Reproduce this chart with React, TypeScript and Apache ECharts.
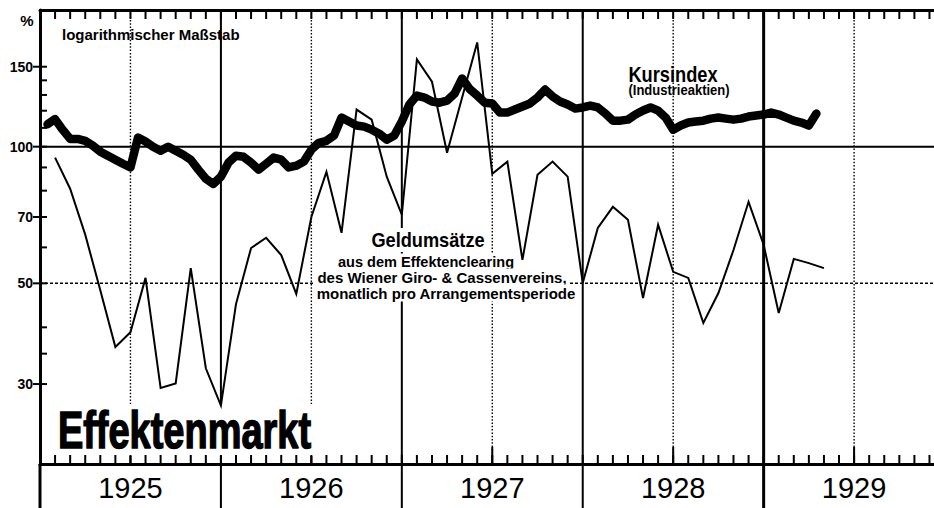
import React, { useEffect, useRef } from "react";
import * as echarts from "echarts";

// Kursindex (Industrieaktien), half-monthly readings starting mid-January 1925
const kursindex = [
  112, 115, 109, 104, 104, 103, 100.5, 97.5, 95.5, 93.6, 91.7, 90,
  104.7, 102.6, 100, 98, 100, 98, 96, 93.6, 89, 85, 82.8, 85.9,
  92.2, 95.5, 95, 92.2, 89, 91.7, 94.6, 93.6, 90, 90.8, 92.7, 98.5,
  102, 103, 105.8, 115.9, 113.6, 111.3, 110.7, 109, 106.8, 103.6, 105.8, 113.6,
  123.8, 129.6, 128.3, 125.7, 125, 126.3, 130.9, 141.3, 134, 129.6, 125, 124.5,
  118.9, 118.9, 120.7, 122.6, 124.5, 128.3, 133.6, 129, 125.7, 123.8, 121.3, 122,
  123.2, 122, 118.3, 114.1, 114.1, 114.7, 117.7, 120.1, 122, 120, 115.9, 109,
  111.3, 113, 113.6, 114.1, 115.3, 115.9, 115.3, 114.7, 115.3, 116.5, 117.1, 117.7,
  118.9, 117.7, 115.9, 114.1, 113, 111.3, 118.3,
];
const kursStartMonth = 0.5;
const kursStepMonth = 0.5;

// Geldumsätze, monthly (end of each month from January 1925)
const geldumsaetze = [
  94.6, 80.8, 64, 48.3, 36.2, 39, 51.4, 29.4, 30.1, 54, 32.5, 26.9,
  45, 59.8, 63, 57.7, 47.4, 70, 88, 64.6, 120.7, 114.7, 85.9, 70.8,
  155.7, 139, 97, 128.3, 169.7, 87.1, 92.7, 56.3, 86.7, 92.7, 85.9, 50.1,
  66.2, 73.7, 69, 46.4, 67.3, 53, 51.4, 40.9, 47.6, 59.2, 75.6, 60.8,
  43, 56.6, 55.4, 54,
];
const geldStartMonth = 1;

const yearLabels = ["1925", "1926", "1927", "1928", "1929"];
const yLabelValues = [30, 50, 70, 100, 150];
const yMinorTickValues = [35, 40, 60, 80, 90, 110, 120, 130, 140];
const yearBoundaryMonths = [0, 12, 24, 36, 48];
const midYearMonths = [6, 18, 30, 42, 54];
const refLineValues = [100, 50];

const X_MAX = 59.3;
const BAND = 44;
const lg = (v: number) => Math.log10(v);
const FONT = "'Liberation Sans', Arial, Helvetica, sans-serif";

export default function App() {
  const ref = useRef<HTMLDivElement>(null);

  useEffect(() => {
    if (!ref.current) return;
    const chart = echarts.init(ref.current, undefined, { renderer: "svg" });
    const yMin = lg(20);
    const yMax = lg(200);
    const monthTicks = Array.from({ length: 60 }, (_, i) => i);

    const kursData = kursindex.map((v, i) => [kursStartMonth + i * kursStepMonth, lg(v)]);
    const geldData = geldumsaetze.map((v, i) => [geldStartMonth + i, lg(v)]);
    const yTickData = yMinorTickValues
      .map((v) => [0, lg(v), 0])
      .concat(yLabelValues.map((v) => [0, lg(v), 1]));

    const txt = (
      x: number,
      y: number,
      text: string,
      size: number,
      o: { sx?: number; align?: string; bg?: string; pad?: number[]; weight?: string; stroke?: number } = {}
    ) => ({
      type: "text",
      x,
      y,
      z: 1.5,
      scaleX: o.sx ?? 1,
      silent: true,
      style: {
        text,
        x: 0,
        y: 0,
        fill: "#000",
        fontSize: size,
        fontWeight: o.weight ?? "bold",
        fontFamily: FONT,
        align: o.align ?? "center",
        verticalAlign: "middle",
        backgroundColor: o.bg,
        padding: o.pad,
        stroke: o.stroke ? "#000" : undefined,
        lineWidth: o.stroke ?? 0,
      },
    });

    const option: any = {
      animation: false,
      backgroundColor: "#fff",
      grid: { left: 40, right: 0, top: 10, bottom: BAND, outerBoundsMode: "none" },
      xAxis: [
        {
          type: "value",
          min: 0,
          max: X_MAX,
          position: "bottom",
          axisLine: { show: true, lineStyle: { color: "#000", width: 3 } },
          axisTick: { show: false },
          axisLabel: {
            customValues: midYearMonths,
            formatter: (v: number) => yearLabels[Math.round((v - 6) / 12)] ?? "",
            fontSize: 29,
            fontFamily: FONT,
            color: "#000",
            margin: 9,
          },
          splitLine: { show: false },
        },
        {
          type: "value",
          min: 0,
          max: X_MAX,
          position: "top",
          axisLine: { show: true, lineStyle: { color: "#000", width: 3 } },
          axisTick: { show: false },
          axisLabel: { show: false },
          splitLine: { show: false },
        },
      ],
      yAxis: [
        {
          type: "value",
          min: yMin,
          max: yMax,
          position: "left",
          axisLine: { show: true, lineStyle: { color: "#000", width: 3 } },
          axisTick: { show: false },
          axisLabel: {
            customValues: yLabelValues.map(lg),
            formatter: (v: number) => String(Math.round(Math.pow(10, v))),
            fontSize: 14,
            fontWeight: "bold",
            fontFamily: FONT,
            color: "#000",
            margin: 7,
          },
          splitLine: { show: false },
        },
      ],
      series: [
        {
          type: "custom",
          name: "yearLines",
          clip: false,
          z: 1,
          data: yearBoundaryMonths.map((m) => [m, yMin]),
          renderItem: (_p: any, api: any) => {
            const m = api.value(0);
            const top = api.coord([m, yMax]);
            const bot = api.coord([m, yMin]);
            return {
              type: "line",
              shape: { x1: top[0], y1: m === 0 ? bot[1] : top[1], x2: bot[0], y2: bot[1] + BAND },
              style: { stroke: "#000", lineWidth: m === 0 || m === 48 ? 3 : 2 },
            };
          },
        },
        {
          type: "custom",
          name: "midYearLines",
          clip: false,
          z: 1,
          data: midYearMonths.map((m) => [m, yMin]),
          renderItem: (_p: any, api: any) => {
            const m = api.value(0);
            const top = api.coord([m, yMax]);
            const bot = api.coord([m, yMin]);
            return {
              type: "group",
              children: [
                { type: "line", shape: { x1: top[0], y1: top[1], x2: bot[0], y2: bot[1] }, style: { stroke: "#000", lineWidth: 1.4, lineDash: [1.5, 1.8] } },
                { type: "line", shape: { x1: bot[0], y1: bot[1] - 17, x2: bot[0], y2: bot[1] }, style: { stroke: "#000", lineWidth: 2 } },
              ],
            };
          },
        },
        {
          type: "custom",
          name: "monthTicksTop",
          clip: false,
          z: 5,
          data: monthTicks.map((m) => [m, yMax]),
          renderItem: (_p: any, api: any) => {
            const p = api.coord([api.value(0), api.value(1)]);
            return { type: "line", shape: { x1: p[0], y1: p[1], x2: p[0], y2: p[1] + 9 }, style: { stroke: "#000", lineWidth: 2 } };
          },
        },
        {
          type: "custom",
          name: "monthTicksBottom",
          clip: false,
          z: 5,
          data: monthTicks.map((m) => [m, yMin]),
          renderItem: (_p: any, api: any) => {
            const p = api.coord([api.value(0), api.value(1)]);
            return { type: "line", shape: { x1: p[0], y1: p[1] - 9, x2: p[0], y2: p[1] }, style: { stroke: "#000", lineWidth: 2 } };
          },
        },
        {
          type: "custom",
          name: "yTicks",
          clip: false,
          z: 5,
          data: yTickData,
          renderItem: (_p: any, api: any) => {
            const y = api.value(1);
            const major = api.value(2) === 1;
            const p = api.coord([0, y]);
            return {
              type: "line",
              shape: { x1: p[0] - (major ? 7 : 0), y1: p[1], x2: p[0] + 7, y2: p[1] },
              style: { stroke: "#000", lineWidth: 2 },
            };
          },
        },
        {
          type: "custom",
          name: "refLines",
          clip: false,
          z: 1,
          data: refLineValues.map((v) => [0, lg(v)]),
          renderItem: (_p: any, api: any) => {
            const y = api.value(1);
            const a = api.coord([0, y]);
            const b = api.coord([X_MAX, y]);
            const solid = Math.abs(y - 2) < 1e-6;
            return {
              type: "line",
              shape: { x1: a[0], y1: a[1], x2: b[0], y2: b[1] },
              style: solid ? { stroke: "#000", lineWidth: 2 } : { stroke: "#000", lineWidth: 1.5, lineDash: [3, 2] },
            };
          },
        },
        {
          type: "line",
          name: "Geldumsätze",
          data: geldData,
          showSymbol: false,
          symbol: "none",
          z: 3,
          lineStyle: { color: "#000", width: 2, join: "miter" },
        },
        {
          type: "line",
          name: "Kursindex",
          data: kursData,
          showSymbol: false,
          symbol: "none",
          z: 4,
          lineStyle: { color: "#000", width: 8.5, cap: "round", join: "round" },
        },
      ],
      graphic: [
        txt(27, 20, "%", 15),
        txt(62, 34, "logarithmischer Maßstab", 15, { align: "left" }),
        txt(673, 74, "Kursindex", 22, { sx: 0.83 }),
        txt(679, 90, "(Industrieaktien)", 14, { sx: 0.93 }),
        txt(428, 240, "Geldumsätze", 20, { sx: 0.91, bg: "#fff", pad: [2, 3] }),
        txt(426, 262, "aus dem Effektenclearing", 15, { sx: 0.97, bg: "#fff", pad: [1, 3] }),
        txt(442, 277, "des Wiener Giro- & Cassenvereins,", 15, { bg: "#fff", pad: [1, 3] }),
        txt(446, 293, "monatlich pro Arrangementsperiode", 15, { bg: "#fff", pad: [1, 3] }),
        txt(55, 430, "Effektenmarkt", 52, { align: "left", sx: 0.73, bg: "#fff", pad: [0, 4], stroke: 1.5 }),
      ],
    };

    chart.setOption(option);
    return () => chart.dispose();
  }, []);

  return (
    <div
      ref={ref}
      style={{ position: "fixed", left: 0, top: 0, width: 934, height: 508, background: "#fff" }}
    />
  );
}
